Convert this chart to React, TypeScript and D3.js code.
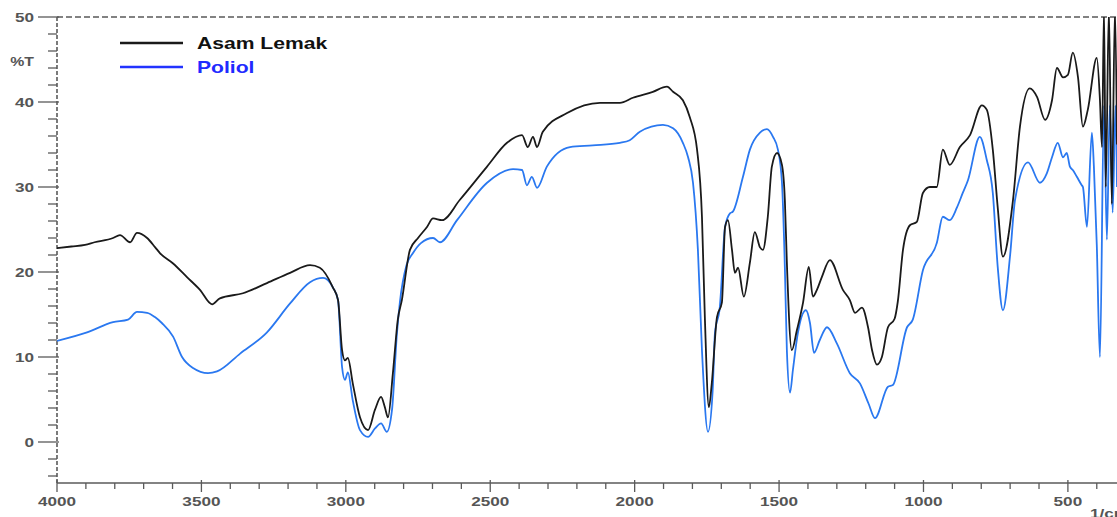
import React from "react";
import * as d3 from "d3";

// [wavenumber (1/cm), %T]
const asamLemak: [number, number][] = [
  [4000, 22.8], [3950, 23.0], [3903, 23.2], [3870, 23.5], [3806, 24.0], [3782, 24.35], [3747, 23.5],
  [3723, 24.6], [3688, 24.0], [3660, 22.9], [3643, 22.2], [3598, 21.0], [3550, 19.4], [3505, 17.9],
  [3463, 16.2], [3436, 16.9], [3356, 17.5], [3273, 18.7], [3193, 19.9], [3124, 20.8], [3090, 20.5],
  [3045, 18.2], [3027, 16.7], [3013, 10.8], [3003, 9.6], [2993, 9.9], [2976, 6.9], [2951, 2.9],
  [2923, 1.4], [2899, 3.8], [2878, 5.3], [2865, 4.1], [2854, 2.9], [2837, 8.1], [2820, 14.4],
  [2806, 16.7], [2778, 22.6], [2750, 24.0], [2719, 25.3], [2698, 26.3], [2667, 26.1], [2605, 28.5],
  [2511, 32.4], [2442, 35.2], [2390, 36.1], [2370, 34.7], [2352, 35.9], [2338, 34.7], [2318, 36.5],
  [2234, 38.7], [2120, 39.9], [2051, 39.9], [2006, 40.5], [1937, 41.2], [1888, 41.8], [1867, 41.2],
  [1833, 40.2], [1809, 38.2], [1784, 34.4], [1767, 26.5], [1757, 14.7], [1743, 4.1], [1733, 6.9],
  [1715, 14.7], [1698, 16.4], [1687, 25.3], [1677, 26.1], [1663, 22.6], [1653, 19.9], [1642, 20.5],
  [1622, 17.1], [1601, 21.1], [1584, 24.7], [1566, 22.9], [1556, 22.6], [1539, 26.5], [1525, 32.4],
  [1507, 34.0], [1490, 32.6], [1480, 28.5], [1473, 21.1], [1456, 10.8], [1438, 13.2], [1417, 16.4],
  [1397, 20.6], [1383, 17.1], [1369, 17.9], [1352, 19.4], [1324, 21.4], [1279, 17.9], [1255, 16.7],
  [1237, 15.2], [1213, 15.8], [1192, 13.5], [1178, 10.8], [1161, 9.1], [1144, 10.0], [1123, 13.5],
  [1100, 14.5], [1089, 16.5], [1071, 22.6], [1047, 25.5], [1023, 25.9], [1002, 29.3], [978, 30.0],
  [954, 30.0], [933, 34.4], [909, 32.6], [874, 34.7], [839, 36.1], [798, 39.6], [781, 39.1],
  [760, 34.4], [743, 27.6], [725, 21.8], [690, 28.5], [666, 37.1], [632, 41.6], [607, 40.6],
  [579, 37.9], [555, 40.2], [538, 44.0], [517, 42.9], [500, 43.2], [483, 45.8], [465, 42.9],
  [448, 37.1], [431, 39.1], [400, 45.2], [389, 40.2], [382, 34.7], [375, 51], [369, 30],
  [358, 51], [348, 28], [337, 51], [330, 35],
];

const poliol: [number, number][] = [
  [4000, 11.9], [3896, 12.9], [3806, 14.1], [3754, 14.4], [3723, 15.3], [3688, 15.2], [3661, 14.7],
  [3637, 14.0], [3598, 12.4], [3567, 10.0], [3529, 8.7], [3477, 8.1], [3446, 8.3], [3366, 10.4],
  [3273, 12.9], [3193, 16.3], [3124, 18.8], [3079, 19.3], [3045, 18.2], [3027, 16.7], [3013, 8.8],
  [3003, 7.3], [2993, 8.2], [2976, 4.9], [2951, 1.4], [2923, 0.6], [2899, 1.6], [2878, 2.2],
  [2858, 1.2], [2840, 3.8], [2823, 12.8], [2813, 16.4], [2790, 20.8], [2768, 22.2], [2740, 23.4],
  [2698, 24.0], [2674, 23.5], [2615, 26.1], [2511, 30.5], [2421, 32.1], [2390, 32.0], [2373, 30.2],
  [2356, 31.2], [2338, 29.9], [2304, 32.4], [2224, 34.7], [2145, 34.9], [2051, 35.2], [2017, 35.5],
  [1982, 36.5], [1902, 37.3], [1867, 36.9], [1833, 35.2], [1815, 33.5], [1798, 30.5], [1781, 22.6],
  [1767, 10.8], [1746, 1.2], [1730, 6.0], [1722, 12.8], [1705, 15.9], [1687, 25.3], [1670, 26.9],
  [1660, 27.1], [1625, 31.2], [1601, 34.4], [1566, 36.4], [1542, 36.8], [1521, 35.9], [1504, 34.4],
  [1490, 30.5], [1480, 20.6], [1473, 10.8], [1462, 5.8], [1452, 8.5], [1435, 12.8], [1407, 15.5],
  [1393, 14.0], [1379, 10.5], [1359, 12.0], [1334, 13.5], [1300, 11.6], [1255, 8.1], [1220, 6.9],
  [1190, 4.5], [1168, 2.8], [1123, 6.5], [1106, 6.7], [1057, 13.5], [1037, 14.4], [1002, 20.2],
  [954, 23.4], [933, 26.5], [909, 26.1], [884, 27.6], [864, 29.3], [846, 30.8], [805, 35.9],
  [781, 33.2], [760, 29.3], [743, 20.6], [725, 15.5], [700, 22.0], [683, 28.5], [638, 32.9],
  [597, 30.5], [573, 31.6], [555, 33.5], [535, 35.2], [517, 33.5], [504, 34.0], [493, 32.4],
  [483, 32.0], [469, 31.2], [452, 30.2], [448, 30.0], [434, 25.3], [417, 36.4], [410, 32.4],
  [400, 23.2], [389, 10.0], [375, 39.6], [365, 23.8], [355, 39.6], [345, 27.0], [335, 39.6],
  [330, 30.0],
];

const xMajorTicks = [4000, 3500, 3000, 2500, 2000, 1500, 1000, 500];
const yMajorTicks = [0, 10, 20, 30, 40, 50];
const xUnit = "1/cm";
const yUnit = "%T";
const legendItems = [
  { name: "Asam Lemak", line: "#1a1a1a", text: "#111111" },
  { name: "Poliol", line: "#2233ff", text: "#1f2bff" },
];

const W = 1117;
const H = 517;

export default function App() {
  const x = d3.scaleLinear().domain([4000, 330]).range([57, 1117]);
  const y = d3.scaleLinear().domain([-5, 50]).range([484.5, 17]);

  const line = d3
    .line<[number, number]>()
    .x((d) => x(d[0]))
    .y((d) => y(d[1]))
    .curve(d3.curveMonotoneX);

  const xMinor = d3.range(4000, 329, -100).filter((v) => v % 500 !== 0);
  const yMinor = d3.range(-4, 50, 2).filter((v) => v % 10 !== 0);
  const axisColor = "#5a5a5a";
  const labelColor = "#555555";
  const sx = 1.32;
  const font = "Liberation Sans, Arial, sans-serif";

  const txt = (
    key: string,
    tx: number,
    ty: number,
    s: string,
    anchor: "start" | "middle" | "end",
    size: number,
    fill: string
  ) => (
    <g key={key} transform={`translate(${tx},${ty}) scale(${sx},1)`}>
      <text
        x={0}
        y={0}
        textAnchor={anchor}
        dominantBaseline="central"
        fontFamily={font}
        fontWeight="bold"
        fontSize={size}
        fill={fill}
      >
        {s}
      </text>
    </g>
  );

  return (
    <svg
      width={W}
      height={H}
      style={{ position: "absolute", left: 0, top: 0, background: "#fff" }}
    >
      <defs>
        <clipPath id="plotClip">
          <rect x={57} y={17} width={W - 57} height={484.5 - 17} />
        </clipPath>
      </defs>

      {/* frame */}
      <line x1={57} x2={W} y1={17} y2={17} stroke={axisColor} strokeWidth={1.3} strokeDasharray="6,3" />
      <line x1={57} x2={57} y1={17} y2={483} stroke={axisColor} strokeWidth={1.6} strokeDasharray="4,2" />
      <line x1={57} x2={W} y1={483} y2={483} stroke={axisColor} strokeWidth={1.3} />

      {/* y ticks */}
      {yMajorTicks.map((v) => (
        <line key={"ym" + v} x1={38} x2={59} y1={y(v)} y2={y(v)} stroke={axisColor} strokeWidth={1.3} />
      ))}
      {yMinor.map((v) => (
        <line key={"yn" + v} x1={48} x2={57} y1={y(v)} y2={y(v)} stroke={axisColor} strokeWidth={1.3} />
      ))}
      {yMajorTicks.map((v) => txt("yl" + v, 34, y(v), String(v), "end", 13, labelColor))}
      {txt("yu", 34, 62, yUnit, "end", 12, labelColor)}

      {/* x ticks */}
      {xMajorTicks.map((v) => (
        <line key={"xm" + v} x1={x(v)} x2={x(v)} y1={480} y2={492} stroke={axisColor} strokeWidth={1.3} />
      ))}
      {xMinor.map((v) => (
        <line key={"xn" + v} x1={x(v)} x2={x(v)} y1={483} y2={489} stroke={axisColor} strokeWidth={1.3} />
      ))}
      {xMajorTicks.map((v) => txt("xl" + v, x(v), 501, String(v), "middle", 13, labelColor))}
      {txt("xu", 1090, 513, xUnit, "start", 13, labelColor)}

      {/* spectra */}
      <g clipPath="url(#plotClip)">
        <path d={line(poliol) || ""} fill="none" stroke="#2a78f0" strokeWidth={1.8} strokeLinejoin="round" />
        <path d={line(asamLemak) || ""} fill="none" stroke="#1a1a1a" strokeWidth={1.8} strokeLinejoin="round" />
      </g>

      {/* legend */}
      {legendItems.map((it, i) => {
        const ly = 43 + i * 24;
        return (
          <g key={it.name}>
            <line x1={120} x2={183} y1={ly} y2={ly} stroke={it.line} strokeWidth={2.4} />
            {txt("lg" + i, 197, ly, it.name, "start", 16, it.text)}
          </g>
        );
      })}
    </svg>
  );
}
